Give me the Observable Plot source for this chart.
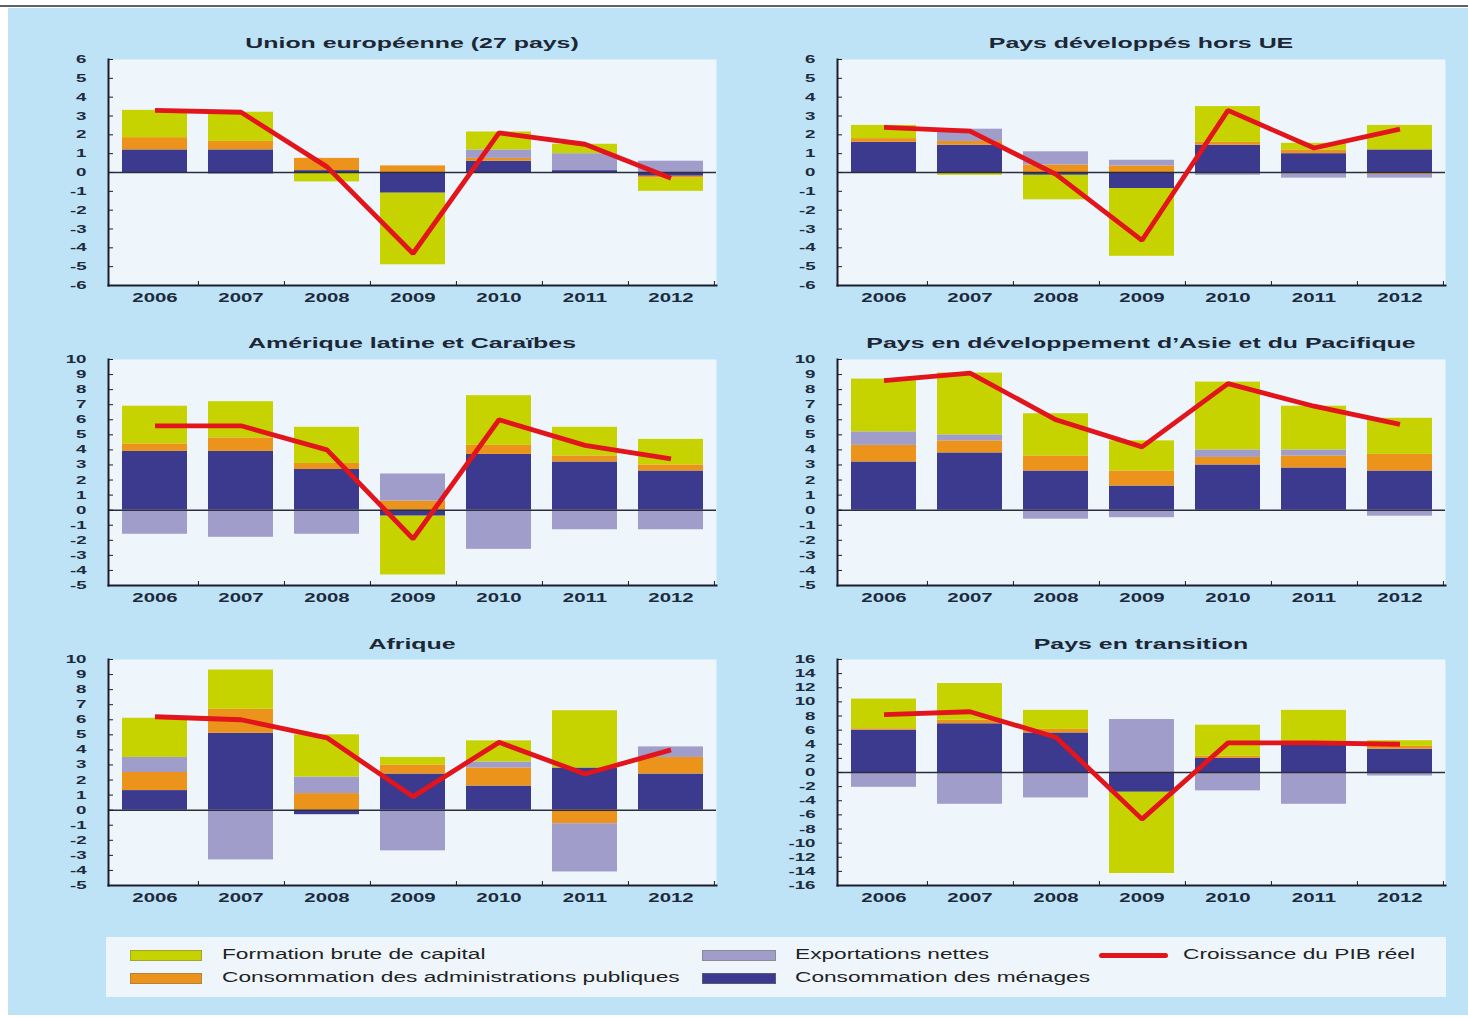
<!DOCTYPE html>
<html>
<head>
<meta charset="utf-8">
<script src="https://cdn.jsdelivr.net/npm/d3@7"></script>
<script src="https://cdn.jsdelivr.net/npm/@observablehq/plot@0.6"></script>
<style>
html, body { margin: 0; padding: 0; background: #ffffff; }
#page { position: relative; width: 1468px; height: 1017px; overflow: hidden; font-family: "Liberation Sans", Arial, sans-serif; }
#topline { position: absolute; left: 0; top: 5px; width: 1468px; height: 2px; background: #5a6266; }
#bg { position: absolute; left: 8px; top: 8px; width: 1460px; height: 1007px; background: #bee3f6; }
.panel { position: absolute; }
.title { position: absolute; font-weight: bold; font-size: 15px; line-height: 17px; color: #1c2635; white-space: nowrap; transform: translateX(-50%) scaleX(1.66); }
#legend { position: absolute; left: 106px; top: 937px; width: 1340px; height: 60px; background: #eef6fc; }
.sw { position: absolute; height: 11px; box-sizing: border-box; border: 1px solid rgba(120,120,90,0.5); }
.lt { position: absolute; font-size: 14px; line-height: 16px; color: #222; white-space: nowrap; transform-origin: 0 50%; transform: scaleX(1.62); }
.redline { position: absolute; height: 5px; border-radius: 3px; }
</style>
</head>
<body>
<div id="page">
  <div id="topline"></div>
  <div id="bg"></div>
</div>
<script>
// ---------- DATA ----------
const years = ["2006", "2007", "2008", "2009", "2010", "2011", "2012"];

const seriesNames = [
  "Consommation des ménages",
  "Consommation des administrations publiques",
  "Exportations nettes",
  "Formation brute de capital"
];
const seriesColors = ["#3c3a8e", "#eb931a", "#a19dcb", "#c7d300"];
const gdpName = "Croissance du PIB réel";
const gdpColor = "#e2141c";

// Union européenne (27 pays)
const ue_menages = [1.2, 1.2, 0.1, -1.1, 0.6, 0.1, -0.2];
const ue_admin   = [0.65, 0.45, 0.65, 0.35, 0.15, 0.0, -0.1];
const ue_exports = [0.0, -0.1, 0.0, 0.0, 0.45, 0.9, 0.6];
const ue_capital = [1.45, 1.55, -0.5, -3.8, 0.95, 0.5, -0.7];
const ue_pib     = [3.3, 3.2, 0.3, -4.3, 2.1, 1.5, -0.3];

// Pays développés hors UE
const dev_menages = [1.6, 1.45, -0.15, -0.85, 1.45, 1.0, 1.2];
const dev_admin   = [0.2, 0.2, 0.4, 0.35, 0.15, 0.2, -0.1];
const dev_exports = [0.0, 0.65, 0.7, 0.3, -0.15, -0.3, -0.2];
const dev_capital = [0.7, -0.15, -1.3, -3.6, 1.9, 0.35, 1.3];
const dev_pib     = [2.4, 2.2, -0.1, -3.6, 3.3, 1.3, 2.3];

// Amérique latine et Caraïbes
const lat_menages = [3.9, 3.9, 2.7, -0.4, 3.7, 3.2, 2.6];
const lat_admin   = [0.5, 0.9, 0.4, 0.6, 0.6, 0.4, 0.4];
const lat_exports = [-1.6, -1.8, -1.6, 1.8, -2.6, -1.3, -1.3];
const lat_capital = [2.5, 2.4, 2.4, -3.9, 3.3, 1.9, 1.7];
const lat_pib     = [5.6, 5.6, 4.0, -1.9, 6.0, 4.3, 3.4];

// Pays en développement d'Asie et du Pacifique
const asie_menages = [3.2, 3.8, 2.6, 1.6, 3.0, 2.8, 2.6];
const asie_admin   = [1.1, 0.8, 1.0, 1.0, 0.5, 0.8, 1.1];
const asie_exports = [0.9, 0.4, -0.6, -0.5, 0.5, 0.4, -0.4];
const asie_capital = [3.5, 4.1, 2.8, 2.0, 4.5, 2.9, 2.4];
const asie_pib     = [8.6, 9.1, 6.0, 4.2, 8.4, 6.9, 5.7];

// Afrique
const afr_menages = [1.3, 5.1, -0.3, 2.4, 1.6, 2.8, 2.4];
const afr_admin   = [1.2, 1.6, 1.1, 0.6, 1.2, -0.9, 1.1];
const afr_exports = [1.0, -3.3, 1.1, -2.7, 0.4, -3.2, 0.7];
const afr_capital = [2.6, 2.6, 2.8, 0.5, 1.4, 3.8, 0.0];
const afr_pib     = [6.2, 6.0, 4.8, 0.9, 4.5, 2.4, 4.0];

// Pays en transition
const tr_menages = [6.0, 6.9, 5.6, -2.8, 2.0, 4.0, 3.3];
const tr_admin   = [0.2, 0.5, 0.5, 0.0, 0.3, 0.3, 0.4];
const tr_exports = [-2.1, -4.5, -3.6, 7.5, -2.6, -4.5, -0.5];
const tr_capital = [4.2, 5.2, 2.7, -11.5, 4.4, 4.5, 0.8];
const tr_pib     = [8.2, 8.6, 5.0, -6.6, 4.2, 4.2, 4.0];

// y axes
const ticksRow1 = [-6, -5, -4, -3, -2, -1, 0, 1, 2, 3, 4, 5, 6];
const ticksStd  = [-5, -4, -3, -2, -1, 0, 1, 2, 3, 4, 5, 6, 7, 8, 9, 10];
const ticksTr   = [-16, -14, -12, -10, -8, -6, -4, -2, 0, 2, 4, 6, 8, 10, 12, 14, 16];

const panels = [
  {title: "Union européenne (27 pays)", col: 0, row: 0, domain: [-6, 6], ticks: ticksRow1,
   s: [ue_menages, ue_admin, ue_exports, ue_capital], pib: ue_pib},
  {title: "Pays développés hors UE", col: 1, row: 0, domain: [-6, 6], ticks: ticksRow1,
   s: [dev_menages, dev_admin, dev_exports, dev_capital], pib: dev_pib},
  {title: "Amérique latine et Caraïbes", col: 0, row: 1, domain: [-5, 10], ticks: ticksStd,
   s: [lat_menages, lat_admin, lat_exports, lat_capital], pib: lat_pib},
  {title: "Pays en développement d’Asie et du Pacifique", col: 1, row: 1, domain: [-5, 10], ticks: ticksStd,
   s: [asie_menages, asie_admin, asie_exports, asie_capital], pib: asie_pib},
  {title: "Afrique", col: 0, row: 2, domain: [-5, 10], ticks: ticksStd,
   s: [afr_menages, afr_admin, afr_exports, afr_capital], pib: afr_pib},
  {title: "Pays en transition", col: 1, row: 2, domain: [-16, 16], ticks: ticksTr,
   s: [tr_menages, tr_admin, tr_exports, tr_capital], pib: tr_pib}
];

// ---------- LAYOUT ----------
const page = document.getElementById("page");
const colLeft = [58, 787];
const rowTop = [49, 349, 649];
const titleTop = [34, 334, 635];
const W = 668, H = 266, ML = 50, MR = 10, MT = 10, MB = 30;
const step = (W - ML - MR) / years.length;
const plotBg = "#eef6fc";
const ink = "#1d2a3c";

function stretchText(svg, factor) {
  svg.querySelectorAll("text").forEach(t => {
    const w = t.getComputedTextLength();
    if (w > 0) {
      t.setAttribute("textLength", (w * factor).toFixed(1));
      t.setAttribute("lengthAdjust", "spacingAndGlyphs");
    }
  });
}

panels.forEach(p => {
  const rows = [];
  years.forEach((y, i) => {
    seriesNames.forEach((name, k) => rows.push({year: y, series: name, value: p.s[k][i]}));
  });
  const gdpRows = years.map((y, i) => ({year: y, value: p.pib[i]}));

  const chart = Plot.plot({
    width: W, height: H,
    marginLeft: ML, marginRight: MR, marginTop: MT, marginBottom: MB,
    x: {type: "band", domain: years, paddingInner: 0.25, paddingOuter: 0.125, label: null},
    y: {domain: p.domain, label: null},
    color: {domain: seriesNames, range: seriesColors},
    style: {background: "transparent", fontFamily: "'Liberation Sans', Arial, sans-serif", color: ink, overflow: "visible"},
    marks: [
      Plot.frame({fill: plotBg, stroke: "none"}),
      Plot.barY(rows, {x: "year", y: "value", fill: "series"}),
      Plot.ruleY([0], {stroke: "#2a2d3c", strokeWidth: 1.5}),
      Plot.line(gdpRows, {x: "year", y: "value", stroke: gdpColor, strokeWidth: 4.8, strokeLinejoin: "miter", strokeLinecap: "butt"}),
      Plot.frame({anchor: "left", stroke: "#1b1d2a", strokeWidth: 2}),
      Plot.frame({anchor: "bottom", stroke: "#1b1d2a", strokeWidth: 2}),
      Plot.axisY({ticks: p.ticks, tickSize: 0, tickPadding: 22, tickFormat: d => String(d), fontWeight: "bold", fontSize: 11, fill: ink, label: null}),
      Plot.axisY({ticks: p.ticks, tickSize: 5, dx: 5, fill: "none", stroke: "#1b1d2a", label: null}),
      Plot.axisX({tickSize: 0, tickPadding: 8, fontWeight: "bold", fontSize: 12, fill: ink, label: null}),
      Plot.axisX({tickSize: 4, dy: -4, dx: step / 2, fill: "none", stroke: "#1b1d2a", label: null})
    ]
  });

  const div = document.createElement("div");
  div.className = "panel";
  div.style.left = colLeft[p.col] + "px";
  div.style.top = rowTop[p.row] + "px";
  div.appendChild(chart);
  page.appendChild(div);
  stretchText(chart, 1.7);

  const t = document.createElement("div");
  t.className = "title";
  t.textContent = p.title;
  t.style.left = (colLeft[p.col] + ML + (W - ML - MR) / 2) + "px";
  t.style.top = titleTop[p.row] + "px";
  page.appendChild(t);
});

// ---------- LEGEND ----------
const legend = document.createElement("div");
legend.id = "legend";
page.appendChild(legend);

const legendItems = [
  {name: seriesNames[3], color: seriesColors[3], sx: 130, sw: 72, tx: 222, row: 0, kind: "box"},
  {name: seriesNames[1], color: seriesColors[1], sx: 130, sw: 72, tx: 222, row: 1, kind: "box"},
  {name: seriesNames[2], color: seriesColors[2], sx: 702, sw: 74, tx: 795, row: 0, kind: "box"},
  {name: seriesNames[0], color: seriesColors[0], sx: 702, sw: 74, tx: 795, row: 1, kind: "box"},
  {name: gdpName, color: gdpColor, sx: 1099, sw: 69, tx: 1183, row: 0, kind: "line"}
];
const legendRowY = [955, 978];
legendItems.forEach(it => {
  const s = document.createElement("div");
  s.className = it.kind === "box" ? "sw" : "redline";
  s.style.background = it.color;
  s.style.left = it.sx + "px";
  s.style.width = it.sw + "px";
  s.style.top = (legendRowY[it.row] - (it.kind === "box" ? 5.5 : 2.5)) + "px";
  page.appendChild(s);
  const tx = document.createElement("div");
  tx.className = "lt";
  tx.textContent = it.name;
  tx.style.left = it.tx + "px";
  tx.style.top = (legendRowY[it.row] - 9) + "px";
  page.appendChild(tx);
});
</script>
</body>
</html>
